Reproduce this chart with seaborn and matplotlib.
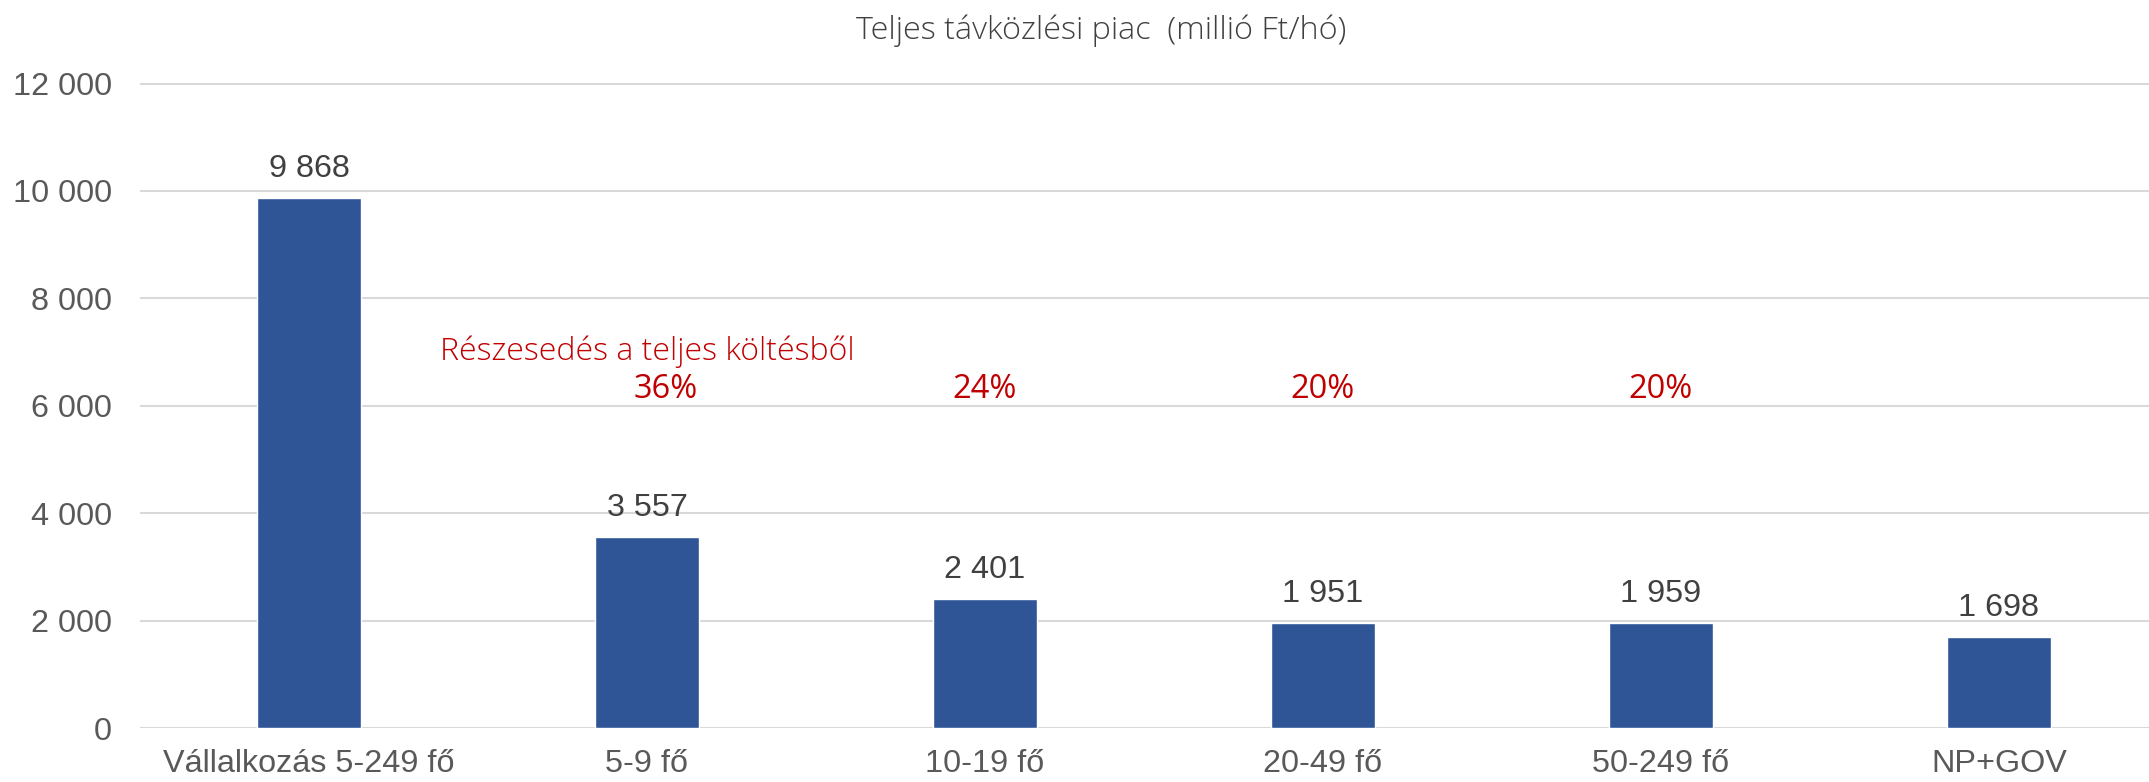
import numpy as np
import pandas as pd
import seaborn as sns
import matplotlib.pyplot as plt

# adatok
categories = ['Vállalkozás 5-249 fő', '5-9 fő', '10-19 fő', '20-49 fő', '50-249 fő', 'NP+GOV']
values = [9868, 3557, 2401, 1951, 1959, 1698]
share_labels = ['36%', '24%', '20%', '20%']
yticks = [0, 2000, 4000, 6000, 8000, 10000, 12000]

df = pd.DataFrame({'kat': categories, 'ertek': values})

sns.set_theme(style='white')
plt.rcParams['font.family'] = ['Liberation Sans', 'DejaVu Sans']

def fmt(v):
    return f'{v:,}'.replace(',', ' ')

fig = plt.figure(figsize=(21.49, 7.82), dpi=100)
ax = fig.add_axes([140 / 2149, 1 - 728 / 782, 1 - 140 / 2149, (728 - 78.2) / 782])

sns.barplot(data=df, x='kat', y='ertek', color='#2F5597', width=0.31,
            saturation=1, ax=ax)

ax.set_xlim(-0.5, 5.444)
ax.set_ylim(0, 12100)
ax.set_yticks(yticks)
ax.set_yticklabels([fmt(t) for t in yticks])
ax.yaxis.grid(True, color='#D9D9D9', linewidth=1.5)
ax.set_axisbelow(True)
for s in ax.spines.values():
    s.set_visible(False)
ax.set_xlabel('')
ax.set_ylabel('')
ax.tick_params(axis='y', length=0, pad=20, labelsize=23.3, labelcolor='#595959')
ax.tick_params(axis='x', length=0, pad=15, labelsize=23.3, labelcolor='#595959')

# értékcímkék
for i, v in enumerate(values):
    ax.annotate(fmt(v), (i, v), xytext=(0, 15), textcoords='offset points',
                ha='center', va='baseline', fontsize=23.3, color='#404040')

# részesedés
ax.text(1.0, 6853, 'Részesedés a teljes költésből', ha='center', va='baseline',
        fontsize=23, color='#C00000', family=['Open Sans', 'DejaVu Sans'],
        fontweight='light')
for i, lab in enumerate(share_labels):
    xpos = i + 1 + (0.055 if i == 0 else 0)
    ax.text(xpos, 6145, lab, ha='center', va='baseline', fontsize=23.5,
            color='#C00000', family=['Open Sans', 'DejaVu Sans'])

fig.text(1101 / 2149, 1 - 31 / 782, 'Teljes távközlési piac  (millió Ft/hó)',
         ha='center', va='center', fontsize=23.3, color='#404040',
         family=['Open Sans', 'DejaVu Sans'], fontweight='light')

fig.savefig('out.png', dpi=100)
